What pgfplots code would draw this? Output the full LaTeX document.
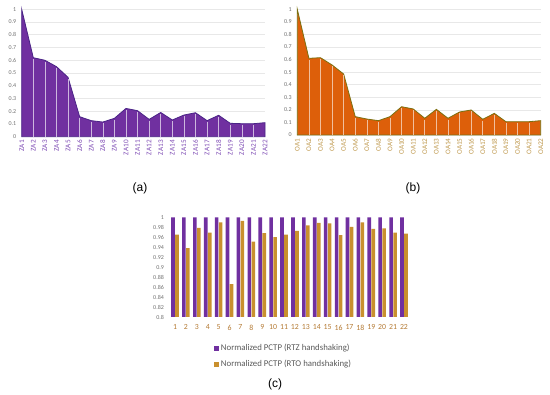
\documentclass[border=0pt]{standalone}
\usepackage{fontspec}
\setmainfont{Carlito}
\newfontfamily\capfont{Liberation Sans}
\usepackage{pgfplots}
\pgfplotsset{compat=1.18}
\definecolor{purA}{HTML}{7030A0}
\definecolor{purEdge}{HTML}{4A2486}
\definecolor{purLab}{HTML}{7E4CB4}
\definecolor{orB}{HTML}{DD5F0A}
\definecolor{orEdge}{HTML}{7A7010}
\definecolor{orLab}{HTML}{C09A50}
\definecolor{goldC}{HTML}{C9902E}
\definecolor{labC}{HTML}{B47A34}
\definecolor{ytl}{HTML}{707070}
\begin{document}
\begin{tikzpicture}[x=1pt,y=1pt]
\useasboundingbox (0,0) rectangle (550,395);
\pgfplotsset{
  panel/.style={
    scale only axis,
    axis line style={draw=none},
    tick style={draw=none},
    ymajorgrids,
    grid style={draw=gray!18, line width=0.6pt},
    ymin=0, ymax=1,
    ytick={0,0.1,0.2,0.3,0.4,0.5,0.6,0.7,0.8,0.9,1},
    yticklabels={0,0.1,0.2,0.3,0.4,0.5,0.6,0.7,0.8,0.9,1},
    y tick label style={font=\fontsize{6}{7}\selectfont, text=ytl},
    ytick style={draw=none},
    yticklabel style={xshift=-2pt},
    xmin=1, xmax=22,
    xtick={1,...,22},
    x tick label style={rotate=90, anchor=east, font=\fontsize{7.2}{7}\selectfont},
    /pgf/number format/assume math mode=true,
    clip=false,
  }
}
% (a)
\begin{axis}[panel, at={(21.7pt,258.3pt)}, anchor=south west, width=243.3pt, height=127.4pt,
  xticklabels={ZA1,ZA2,ZA3,ZA4,ZA5,ZA6,ZA7,ZA8,ZA9,ZA10,ZA11,ZA12,ZA13,ZA14,ZA15,ZA16,ZA17,ZA18,ZA19,ZA20,ZA21,ZA22},
  x tick label style={text=purLab}]
\addplot[fill=purA, draw=purEdge, line width=0.8pt] coordinates {
(1,1.0)(2,0.62)(3,0.60)(4,0.55)(5,0.466)(6,0.157)(7,0.126)(8,0.115)(9,0.144)(10,0.222)(11,0.204)(12,0.136)(13,0.19)(14,0.131)(15,0.17)(16,0.188)(17,0.126)(18,0.168)(19,0.105)(20,0.102)(21,0.102)(22,0.11)} \closedcycle;
\addplot[ycomb, draw=purA!35!white, line width=0.6pt, mark=none] coordinates {
(2,0.61)(3,0.59)(4,0.54)(5,0.456)(6,0.147)(7,0.116)(8,0.105)(9,0.134)(10,0.212)(11,0.194)(12,0.126)(13,0.18)(14,0.121)(15,0.16)(16,0.178)(17,0.116)(18,0.158)(19,0.095)(20,0.092)(21,0.092)};
\end{axis}
% (b)
\begin{axis}[panel, at={(297.3pt,260pt)}, anchor=south west, width=243.4pt, height=125.7pt,
  xticklabels={OA1,OA2,OA3,OA4,OA5,OA6,OA7,OA8,OA9,OA10,OA11,OA12,OA13,OA14,OA15,OA16,OA17,OA18,OA19,OA20,OA21,OA22},
  x tick label style={text=orLab}]
\addplot[fill=orB, draw=orEdge, line width=0.8pt] coordinates {
(1,1.0)(2,0.61)(3,0.615)(4,0.557)(5,0.485)(6,0.146)(7,0.127)(8,0.114)(9,0.146)(10,0.225)(11,0.207)(12,0.133)(13,0.204)(14,0.133)(15,0.183)(16,0.199)(17,0.125)(18,0.172)(19,0.106)(20,0.106)(21,0.106)(22,0.114)} \closedcycle;
\addplot[ycomb, draw=orB!40!white, line width=0.6pt, mark=none] coordinates {
(2,0.60)(3,0.605)(4,0.547)(5,0.475)(6,0.136)(7,0.117)(8,0.104)(9,0.136)(10,0.215)(11,0.197)(12,0.123)(13,0.194)(14,0.123)(15,0.173)(16,0.189)(17,0.115)(18,0.162)(19,0.096)(20,0.096)(21,0.096)};
\end{axis}
% (c)
\begin{axis}[at={(167.4pt,78pt)}, anchor=south west, scale only axis, width=244.2pt, height=99.7pt,
  axis line style={draw=none}, tick style={draw=none},
  ybar=0.4pt, bar width=3.6pt,
  xmin=0.3, xmax=22.7, ymin=0.8, ymax=1,
  xtick={1,...,22},
  ytick={0.8,0.82,0.84,0.86,0.88,0.9,0.92,0.94,0.96,0.98,1},
  yticklabels={0.8,0.82,0.84,0.86,0.88,0.9,0.92,0.94,0.96,0.98,1},
  y tick label style={font=\fontsize{6}{7}\selectfont, text=ytl},
  x tick label style={font=\fontsize{7.8}{8}\selectfont, text=labC},
  /pgf/number format/assume math mode=true,
  legend style={draw=none, fill=none, inner sep=0pt, at={(0.19,-0.25)}, anchor=north west,
    font=\fontsize{8.8}{10}\selectfont, text=black!65, row sep=4pt, legend cell align=left},
  legend image code/.code={\fill[#1,draw=none] (0pt,-2.5pt) rectangle (5pt,2.5pt);},
]
\addplot[fill=purA, draw=none] coordinates {
(1,1)(2,1)(3,1)(4,1)(5,1)(6,1)(7,1)(8,1)(9,1)(10,1)(11,1)(12,1)(13,1)(14,1)(15,1)(16,1)(17,1)(18,1)(19,1)(20,1)(21,1)(22,1)};
\addplot[fill=goldC, draw=none] coordinates {
(1,0.965)(2,0.938)(3,0.979)(4,0.969)(5,0.990)(6,0.866)(7,0.993)(8,0.951)(9,0.968)(10,0.960)(11,0.965)(12,0.973)(13,0.984)(14,0.989)(15,0.988)(16,0.964)(17,0.981)(18,0.990)(19,0.977)(20,0.978)(21,0.969)(22,0.967)};
\legend{Normalized PCTP (RTZ handshaking),Normalized PCTP (RTO handshaking)}
\end{axis}
\node[font=\capfont\fontsize{12}{14}\selectfont] at (140,207) {(a)};
\node[font=\capfont\fontsize{12}{14}\selectfont] at (413,207) {(b)};
\node[font=\capfont\fontsize{12}{14}\selectfont] at (275,11) {(c)};
\end{tikzpicture}
\end{document}
